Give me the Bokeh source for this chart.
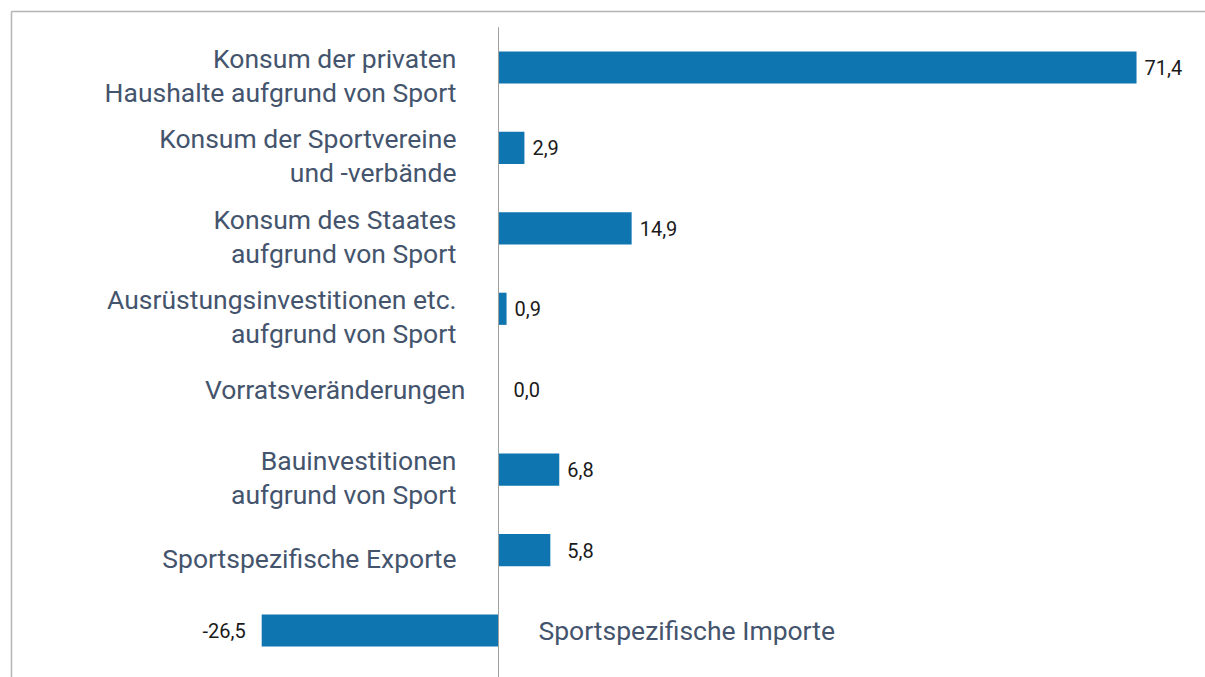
from bokeh.plotting import figure
from bokeh.models import Range1d, ColumnDataSource
from bokeh.embed import file_html
from bokeh.resources import INLINE
from bokeh.core.properties import value

categories = [
    "Konsum der privaten\nHaushalte aufgrund von Sport",
    "Konsum der Sportvereine\nund -verbände",
    "Konsum des Staates\naufgrund von Sport",
    "Ausrüstungsinvestitionen etc.\naufgrund von Sport",
    "Vorratsveränderungen",
    "Bauinvestitionen\naufgrund von Sport",
    "Sportspezifische Exporte",
    "Sportspezifische Importe",
]
values = [71.4, 2.9, 14.9, 0.9, 0.0, 6.8, 5.8, -26.5]

W, H = 1205, 677
KX = 8.936          # px per unit
ZERO_PX = 498       # canvas x of zero
ROW = 80.43         # px per row
TOP_PX = 67         # canvas y of first row

x0 = -ZERO_PX / KX
x1 = x0 + W / KX
ytop = -TOP_PX / ROW
ybot = ytop + H / ROW

p = figure(width=W, height=H, output_backend="svg", toolbar_location=None,
           x_range=Range1d(x0, x1), y_range=Range1d(ybot, ytop),
           min_border=0, min_border_left=0, min_border_right=0,
           min_border_top=0, min_border_bottom=0)
p.axis.visible = False
p.grid.visible = False
p.outline_line_color = None
p.background_fill_color = "white"
p.border_fill_color = "white"

idx = list(range(len(categories)))
vlabels = [f"{v:.1f}".replace(".", ",") for v in values]

# frame lines (left and top)
fx = x0 + 11 / KX
fy = ytop + 11 / ROW
p.segment(x0=[fx, fx], y0=[fy, fy], x1=[fx, x1], y1=[ybot, fy],
          line_color="#b4b4b4", line_width=1.5)

# bars
src = ColumnDataSource(dict(y=idx, v=values))
p.hbar(y="y", left=0, right="v", height=0.40, source=src,
       fill_color="#0f75b0", line_color=None)

# zero axis line
p.segment(x0=[0], y0=[-0.5], x1=[0], y1=[ybot], line_color="#a0a0a0", line_width=1)

# category labels
cat_off_x = []
cat_off_y = []
cat_align = []
for c, v in zip(categories, values):
    if v < 0:
        cat_off_x.append(40); cat_align.append("left"); cat_off_y.append(0)
    elif c == "Vorratsveränderungen":
        cat_off_x.append(-33); cat_align.append("right"); cat_off_y.append(0)
    else:
        cat_off_x.append(-42); cat_align.append("right"); cat_off_y.append(8)
csrc = ColumnDataSource(dict(x=[0] * len(idx), y=idx, t=categories,
                             xo=cat_off_x, yo=cat_off_y, al=cat_align))
p.text(x="x", y="y", text="t", x_offset="xo", y_offset="yo", text_align="al",
       text_baseline="middle", source=csrc, text_font=value("Roboto"),
       text_font_size="26.5px", text_color="#44546d", text_line_height=1.1)

# value labels
vo_x = []
v_align = []
for c, v in zip(categories, values):
    if v < 0:
        vo_x.append(-16); v_align.append("right")
    elif v == 0:
        vo_x.append(15); v_align.append("left")
    elif c == "Sportspezifische Exporte":
        vo_x.append(17); v_align.append("left")
    else:
        vo_x.append(8); v_align.append("left")
vsrc = ColumnDataSource(dict(x=values, y=idx, t=vlabels, xo=vo_x, al=v_align))
p.text(x="x", y="y", text="t", x_offset="xo", text_align="al",
       text_baseline="middle", source=vsrc, text_font=value("Roboto"),
       text_font_size="20px", text_color="#1a1a1a")

open("out.html", "w").write(file_html(p, INLINE))
